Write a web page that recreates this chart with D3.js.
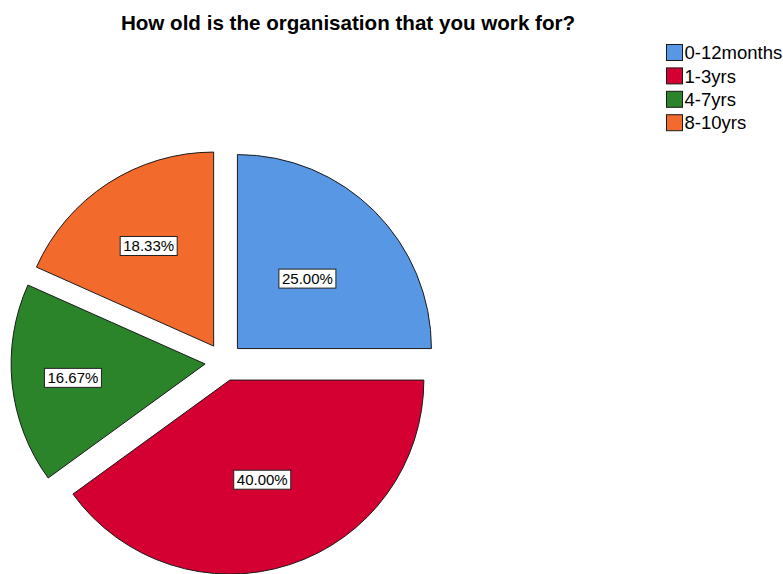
<!DOCTYPE html>
<html>
<head>
<meta charset="utf-8">
<script src="https://cdn.jsdelivr.net/npm/d3@7"></script>
<style>
  html, body { margin: 0; padding: 0; background: #fff; }
  svg { display: block; }
</style>
</head>
<body>
<svg id="chart" width="783" height="574"></svg>
<script>
// Survey responses: age of the respondent's organisation
const title = "How old is the organisation that you work for?";
const categories = ["0-12months", "1-3yrs", "4-7yrs", "8-10yrs"];
const percents = [25.00, 40.00, 16.67, 18.33];
const colors = ["#5897E3", "#D50032", "#2B842A", "#F26A2C"];

const W = 783, H = 574;
const cx = 224, cy = 362;      // pie centre
const radius = 194;
const explode = 19;            // every slice pulled out from the centre
// label distance from the slice tip, as a fraction of the radius
const labelFrac = [0.51, 0.54, 0.685, 0.615];

const svg = d3.select("#chart");

svg.append("text")
  .attr("x", 348)
  .attr("y", 30)
  .attr("text-anchor", "middle")
  .attr("font-family", "Liberation Sans, Arial, sans-serif")
  .attr("font-weight", "bold")
  .attr("font-size", 20.6)
  .attr("fill", "#000")
  .text(title);

const data = categories.map((c, i) => ({ cat: c, value: percents[i], color: colors[i] }));

const pie = d3.pie().sort(null).value(d => d.value).startAngle(0).endAngle(2 * Math.PI);
const arc = d3.arc().innerRadius(0).outerRadius(radius);
const arcs = pie(data);

const g = svg.append("g").attr("transform", `translate(${cx},${cy})`);

const slice = g.selectAll("g.slice")
  .data(arcs)
  .join("g")
  .attr("class", "slice")
  .attr("transform", d => {
    const mid = (d.startAngle + d.endAngle) / 2;
    return `translate(${explode * Math.sin(mid)},${-explode * Math.cos(mid)})`;
  });

slice.append("path")
  .attr("d", arc)
  .attr("fill", d => d.data.color)
  .attr("stroke", "#1a1a1a")
  .attr("stroke-width", 1)
  .attr("stroke-linejoin", "miter");

// Boxed percentage labels
slice.each(function(d, i) {
  const mid = (d.startAngle + d.endAngle) / 2;
  const rr = radius * labelFrac[i];
  const lx = rr * Math.sin(mid), ly = -rr * Math.cos(mid);
  const lab = d3.select(this).append("g").attr("transform", `translate(${lx},${ly})`);
  lab.append("rect")
    .attr("x", -28.5)
    .attr("y", -9.5)
    .attr("width", 57)
    .attr("height", 19)
    .attr("fill", "#fff")
    .attr("stroke", "#222")
    .attr("stroke-width", 1);
  lab.append("text")
    .attr("text-anchor", "middle")
    .attr("dy", "0.36em")
    .attr("font-family", "Liberation Sans, Arial, sans-serif")
    .attr("font-size", 15)
    .attr("fill", "#000")
    .text(d.data.value.toFixed(2) + "%");
});

// Legend
const legend = svg.append("g").attr("transform", "translate(666.5,44.5)");
const item = legend.selectAll("g")
  .data(data)
  .join("g")
  .attr("transform", (d, i) => `translate(0,${i * 23.4})`);
item.append("rect")
  .attr("width", 16)
  .attr("height", 16)
  .attr("fill", d => d.color)
  .attr("stroke", "#1a1a1a")
  .attr("stroke-width", 1);
item.append("text")
  .attr("x", 18)
  .attr("y", 8)
  .attr("dy", "0.36em")
  .attr("font-family", "Liberation Sans, Arial, sans-serif")
  .attr("font-size", 18.5)
  .attr("fill", "#000")
  .text(d => d.cat);
</script>
</body>
</html>
